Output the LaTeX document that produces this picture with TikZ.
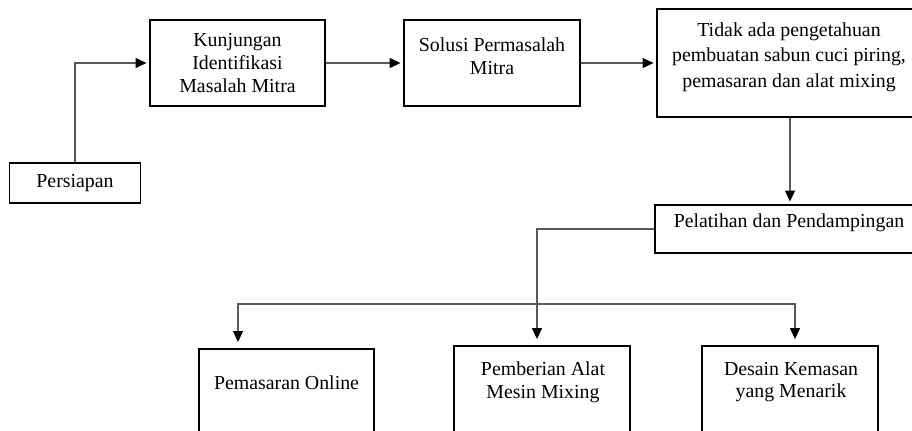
\documentclass[tikz,border=0pt]{standalone}
\usepackage{fontspec}
\setmainfont{Liberation Serif}
\usetikzlibrary{arrows.meta}
\tikzset{box/.style={rectangle, draw=black, line width=1.1pt, inner sep=0pt}}
\tikzset{txt/.style={align=center, inner sep=0pt}}
\tikzset{link/.style={draw=black!65, line width=0.7pt, -{Triangle[length=0.22cm, width=0.2cm, color=black]}, shorten >=0.05cm}}
\tikzset{drop/.style={shorten >=0.12cm}}

\begin{document}
\begin{tikzpicture}[x=0.02cm, y=-0.02cm, font=\fontsize{11.3}{13}\selectfont]
		\useasboundingbox (0,0) rectangle (912,430);
		\clip (0,0) rectangle (912,430);

		% top row
		\node[box, minimum width=2.62cm, minimum height=0.8cm] at (75,183) (persiapan) {Persiapan};
		\node[box, align=center, minimum width=3.5cm, minimum height=1.72cm] at (237.5,63) (kunjungan) {Kunjungan\\Identifikasi\\Masalah Mitra};
		\node[box, minimum width=3.52cm, minimum height=1.72cm] at (492,63) (solusi) {};
		\node[txt] at (492,56) (solusi-t) {Solusi Permasalah\\Mitra};
		\node[box, minimum width=5.32cm, minimum height=2.16cm] at (790,63) (tidak) {};
		\node[txt, font=\fontsize{11.3}{14.5}\selectfont] at (789,57) (tidak-t) {Tidak ada pengetahuan\\pembuatan sabun cuci piring,\\pemasaran dan alat mixing};
		\node[box, minimum width=5.4cm, minimum height=0.96cm] at (790,229) (pelatihan) {};
		\node[txt] at (789,223) (pelatihan-t) {Pelatihan dan Pendampingan};

		% bottom row
		\node[box, minimum width=3.5cm, minimum height=2.02cm] at (286.5,399.5) (pemasaran) {};
		\node[txt] at (286.5,383) (pemasaran-t) {Pemasaran Online};
		\node[box, minimum width=3.52cm, minimum height=2.08cm] at (542,398) (pemberian) {};
		\node[txt] at (543,382) (pemberian-t) {Pemberian Alat\\Mesin Mixing};
		\node[box, minimum width=3.52cm, minimum height=2.08cm] at (790,398) (desain) {};
		\node[txt] at (791,382) (desain-t) {Desain Kemasan\\yang Menarik};

		\coordinate (fork) at (537,304);
		\coordinate (left-drop) at (238,304);
		\coordinate (right-drop) at (795,304);

		\draw[link] (persiapan.north) |- (kunjungan.west);
		\draw[link] (kunjungan.east) -- (solusi.west);
		\draw[link] (solusi.east) -- (tidak.west);
		\draw[link] (tidak.south) -- (pelatihan.north);
		\draw[link, drop] (pelatihan.west) -| (pemberian.north -| fork);
		\draw[link, drop] (fork) -- (left-drop) -- (pemasaran.north -| left-drop);
		\draw[link, drop] (fork) -| (desain.north -| right-drop);
\end{tikzpicture}
\end{document}
